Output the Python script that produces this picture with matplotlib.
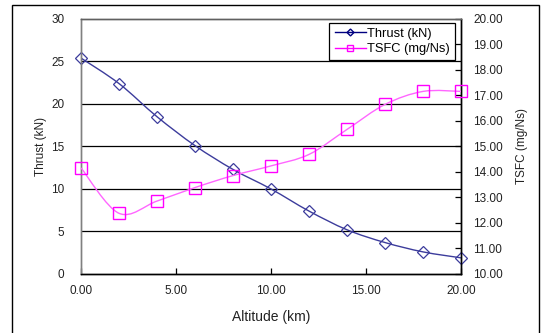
import numpy as np
import matplotlib
matplotlib.use('Agg')
import matplotlib.pyplot as plt
from matplotlib.path import Path
from matplotlib.patches import PathPatch, Rectangle
from matplotlib.lines import Line2D

plt.rcParams['font.family'] = ['Liberation Sans', 'DejaVu Sans']

altitude = [0, 2, 4, 6, 8, 10, 12, 14, 16, 18, 20]
thrust = [25.4, 22.4, 18.5, 15.1, 12.3, 10.0, 7.4, 5.2, 3.7, 2.6, 1.9]
tsfc = [14.16, 12.38, 12.86, 13.39, 13.86, 14.24, 14.69, 15.67, 16.65, 17.16, 17.16]

x_ticks = [0, 5, 10, 15, 20]
thrust_ticks = [0, 5, 10, 15, 20, 25, 30]
tsfc_ticks = [10, 11, 12, 13, 14, 15, 16, 17, 18, 19, 20]

NAVY, LINE_BLUE, MAGENTA = '#000080', '#3c3c9c', '#ff00ff'


def smooth_path(xs, ys):
    # Excel-style smoothed line: cubic Bezier through every point (Catmull-Rom tangents)
    p = np.column_stack([xs, ys]).astype(float)
    ext = np.vstack([p[0], p, p[-1]])
    verts, codes = [p[0]], [Path.MOVETO]
    for i in range(len(p) - 1):
        c1 = ext[i + 1] + (ext[i + 2] - ext[i]) / 6
        c2 = ext[i + 2] - (ext[i + 3] - ext[i + 1]) / 6
        verts += [c1, c2, p[i + 1]]
        codes += [Path.CURVE4] * 3
    return Path(verts, codes)


fig = plt.figure(figsize=(5.46, 3.33), dpi=100, facecolor='white')
ax = fig.add_axes([0.1484, 0.1772, 0.6960, 0.7658])
ax2 = ax.twinx()

ax.add_patch(PathPatch(smooth_path(altitude, thrust), fill=False,
                       edgecolor=LINE_BLUE, linewidth=1.0, zorder=3))
ax.plot(altitude, thrust, linestyle='none', marker='D', markersize=6,
        markerfacecolor='none', markeredgecolor=LINE_BLUE, markeredgewidth=0.9,
        zorder=4, clip_on=False)

ax2.add_patch(PathPatch(smooth_path(altitude, tsfc), fill=False,
                        edgecolor='#ff66ff', linewidth=1.0, zorder=3))
ax2.plot(altitude, tsfc, linestyle='none', marker='s', markersize=8,
         markerfacecolor='none', markeredgecolor=MAGENTA, markeredgewidth=1.0,
         zorder=4, clip_on=False)

ax.set_xlim(0, 20)
ax.set_ylim(0, 30)
ax2.set_ylim(10, 20)

ax.set_xticks(x_ticks)
ax.set_xticklabels([f'{v:.2f}' for v in x_ticks])
ax.set_yticks(thrust_ticks)
ax.set_yticklabels([str(v) for v in thrust_ticks])
ax2.set_yticks(tsfc_ticks)
ax2.set_yticklabels([f'{v:.2f}' for v in tsfc_ticks])

for v in thrust_ticks[1:-1]:
    ax.axhline(v, color='#000000', linewidth=0.9, zorder=1)

ax.tick_params(axis='x', direction='in', length=4, width=0.9, labelsize=8.5,
               pad=8, colors='#000000', labelcolor='#222222')
ax.tick_params(axis='y', length=0, labelsize=8.5, pad=12, labelcolor='#222222')
ax2.tick_params(axis='y', direction='in', length=4, width=0.9, labelsize=8.5,
                pad=9, colors='#000000', labelcolor='#222222')

for a in (ax, ax2):
    a.spines['left'].set_color('#808080')
    a.spines['top'].set_color('#606060')
    a.spines['bottom'].set_color('#000000')
    a.spines['right'].set_color('#000000')
    for s in a.spines.values():
        s.set_linewidth(1.0)

ax.set_xlabel('Altitude (km)', fontsize=10, color='#222222', labelpad=9)
ax.set_ylabel('Thrust (kN)', fontsize=8.5, color='#222222', labelpad=3)
ax2.set_ylabel('TSFC (mg/Ns)', fontsize=8.5, color='#222222', labelpad=9)

handles = [
    Line2D([], [], color=NAVY, linewidth=1.0, marker='D', markersize=3.5,
           markerfacecolor='none', markeredgecolor=NAVY),
    Line2D([], [], color=MAGENTA, linewidth=1.0, marker='s', markersize=5,
           markerfacecolor='none', markeredgecolor=MAGENTA),
]
leg = fig.legend(handles, ['Thrust (kN)', 'TSFC (mg/Ns)'], loc='upper right',
                 bbox_to_anchor=(0.834, 0.932), fontsize=9.3, frameon=True,
                 fancybox=False, edgecolor='#000000', framealpha=1,
                 handlelength=2.4, handletextpad=0.15, borderpad=0.4,
                 labelspacing=0.25, borderaxespad=0)
leg.get_frame().set_linewidth(0.9)

fig.patches.append(Rectangle((12 / 546, -0.05), (539 - 12) / 546, 1.05 - 5 / 333,
                             transform=fig.transFigure, fill=False,
                             edgecolor='#000000', linewidth=1.0))

fig.savefig('out.png', dpi=100, facecolor='white')
